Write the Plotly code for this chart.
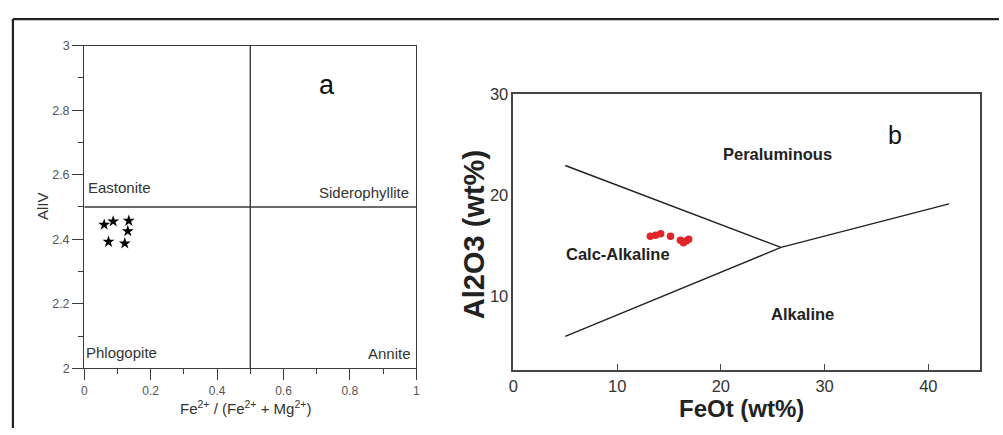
import plotly.graph_objects as go

W, H = 1003, 435

# --- Panel a: AlIV vs Fe2+/(Fe2+ + Mg2+) biotite classification ---
fe_ratio = [0.060, 0.087, 0.134, 0.131, 0.073, 0.122]
al_iv = [2.445, 2.455, 2.457, 2.425, 2.392, 2.387]

a_div_x = [0.5, 0.5]
a_div_y = [2.0, 3.0]
a_mid_x = [0.0, 1.0]
a_mid_y = [2.5, 2.5]

a_fields = ["Eastonite", "Siderophyllite", "Phlogopite", "Annite"]
a_field_x = [0.005, 0.985, 0.0, 0.99]
a_field_y = [2.56, 2.545, 2.05, 2.045]
a_field_anchor = ["left", "right", "left", "right"]

# --- Panel b: Al2O3 vs FeOt discrimination (Abdel-Rahman) ---
feot = [13.2, 13.7, 14.2, 15.15, 16.1, 16.4, 16.7, 16.9]
al2o3 = [15.9, 16.0, 16.15, 15.9, 15.5, 15.25, 15.45, 15.6]

b_upper_x = [5.0, 25.8]
b_upper_y = [22.9, 14.8]
b_right_x = [25.8, 42.0]
b_right_y = [14.8, 19.1]
b_lower_x = [5.0, 25.8]
b_lower_y = [6.0, 14.8]

b_fields = ["Peraluminous", "Calc-Alkaline", "Alkaline"]
b_field_x = [25.5, 10.1, 27.9]
b_field_y = [24.0, 14.1, 8.2]

b_xticks = [0, 10, 20, 30, 40]
b_yticks = [10, 20, 30]

LINE = "#3a3a3a"
TXT = "#333333"
FONT = "Liberation Sans, Arial, sans-serif"


def px(x):
    return x / W


def py(y):
    return 1 - y / H


def note(text, x, y, size, color, angle=0, xanchor="center"):
    return dict(text=text, x=px(x), y=py(y), xref="paper", yref="paper",
                xanchor=xanchor, yanchor="middle", textangle=angle,
                showarrow=False, font=dict(family=FONT, size=size, color=color))


fig = go.Figure()

# panel a boundaries
for xs, ys in [(a_div_x, a_div_y), (a_mid_x, a_mid_y)]:
    fig.add_trace(go.Scatter(x=xs, y=ys, mode="lines", xaxis="x", yaxis="y",
                             line=dict(color=LINE, width=1.4),
                             hoverinfo="skip", showlegend=False))
fig.add_trace(go.Scatter(x=fe_ratio, y=al_iv, mode="markers", xaxis="x", yaxis="y",
                         marker=dict(symbol="star", size=9, color="black",
                                     line=dict(width=0)),
                         showlegend=False))

# panel b boundaries
for xs, ys in [(b_upper_x, b_upper_y), (b_right_x, b_right_y), (b_lower_x, b_lower_y)]:
    fig.add_trace(go.Scatter(x=xs, y=ys, mode="lines", xaxis="x2", yaxis="y2",
                             line=dict(color="#222222", width=1.4),
                             hoverinfo="skip", showlegend=False))
fig.add_trace(go.Scatter(x=feot, y=al2o3, mode="markers", xaxis="x2", yaxis="y2",
                         marker=dict(size=7.5, color="#e0262a", line=dict(width=0)),
                         showlegend=False))

annotations = []
for t, x, y, anc in zip(a_fields, a_field_x, a_field_y, a_field_anchor):
    annotations.append(dict(text=t, x=x, y=y, xref="x", yref="y", xanchor=anc,
                            yanchor="middle", showarrow=False,
                            font=dict(family=FONT, size=15, color=TXT)))
annotations.append(note("a", 325, 79, 27, "#111"))
annotations.append(note("Fe<sup>2+</sup> / (Fe<sup>2+</sup> + Mg<sup>2+</sup>)",
                        243, 414, 15, TXT))
annotations.append(note("AlIV", 38, 205, 15, TXT, angle=-90))

for t, x, y in zip(b_fields, b_field_x, b_field_y):
    annotations.append(dict(text="<b>" + t + "</b>", x=x, y=y, xref="x2", yref="y2",
                            xanchor="center", yanchor="middle", showarrow=False,
                            font=dict(family=FONT, size=16.5, color="#222")))
annotations.append(note("b", 898, 131, 25, "#111"))
annotations.append(note("<b>FeOt (wt%)</b>", 743, 415, 24, "#222"))
annotations.append(note("<b>Al2O3 (wt%)</b>", 474, 234, 29, "#222", angle=-90))

# outer frame (top and left edges)
shapes = [
    dict(type="line", xref="paper", yref="paper", x0=px(8), x1=1.0,
         y0=py(10.5), y1=py(10.5), line=dict(color="#222", width=2.2)),
    dict(type="line", xref="paper", yref="paper", x0=px(8), x1=px(8),
         y0=py(10.5), y1=0.0, line=dict(color="#222", width=2.2)),
]

fig.update_layout(
    width=W, height=H,
    margin=dict(l=0, r=0, t=0, b=0),
    paper_bgcolor="white", plot_bgcolor="white",
    showlegend=False,
    annotations=annotations,
    shapes=shapes,
    xaxis=dict(domain=[px(80), px(415)], range=[0, 1], anchor="y",
               showgrid=False, zeroline=False, showline=True, mirror=True,
               linecolor=LINE, linewidth=1.4,
               ticks="outside", tickcolor=LINE, ticklen=11, tickwidth=1.3,
               dtick=0.2, tick0=0,
               minor=dict(dtick=0.1, ticks="outside", ticklen=5, tickcolor=LINE,
                          tickwidth=1.3, showgrid=False),
               tickfont=dict(family=FONT, size=12, color="#555")),
    yaxis=dict(domain=[py(373), py(38)], range=[2, 3], anchor="x",
               showgrid=False, zeroline=False, showline=True, mirror=True,
               linecolor=LINE, linewidth=1.4,
               ticks="outside", tickcolor=LINE, ticklen=11, tickwidth=1.3,
               dtick=0.2, tick0=2,
               minor=dict(dtick=0.1, ticks="outside", ticklen=5, tickcolor=LINE,
                          tickwidth=1.3, showgrid=False),
               tickfont=dict(family=FONT, size=12.5, color="#555")),
    xaxis2=dict(domain=[px(513), px(984)], range=[0, 45], anchor="y2",
                showgrid=False, zeroline=False, showline=True, mirror=True,
                linecolor="#444", linewidth=1.6,
                ticks="inside", tickcolor="#444", ticklen=6, tickwidth=1.4,
                tickvals=b_xticks,
                tickfont=dict(family=FONT, size=16.5, color="#333")),
    yaxis2=dict(domain=[py(375), py(88)], range=[2.65, 30], anchor="x2",
                showgrid=False, zeroline=False, showline=True, mirror=True,
                linecolor="#444", linewidth=1.6,
                ticks="", tickvals=b_yticks,
                tickfont=dict(family=FONT, size=16.5, color="#333")),
)

fig.write_html("out.html")
